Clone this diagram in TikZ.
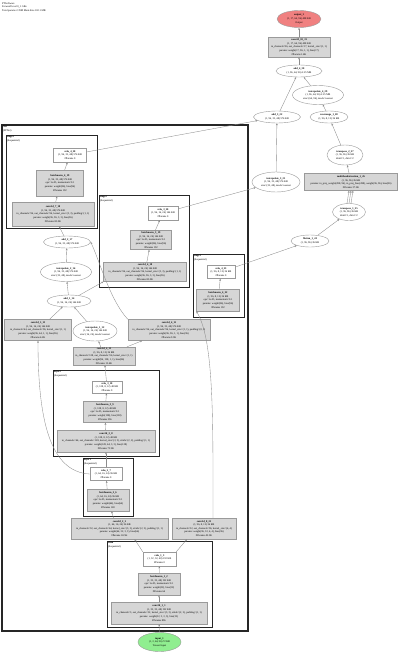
\documentclass[tikz,border=0pt]{standalone}
\usepackage{fontspec}
\setmainfont{Liberation Serif}
\usetikzlibrary{arrows.meta,shapes.geometric}
\definecolor{edgegray}{HTML}{8C8C8C}
\definecolor{linegray}{HTML}{9A9A9A}
\definecolor{boxgray}{HTML}{D6D6D6}
\definecolor{outred}{HTML}{F08080}
\definecolor{ingreen}{HTML}{90EE90}
\newcommand{\nfont}{\fontsize{2.6}{3.6}\selectfont}

\begin{document}
\begin{tikzpicture}[
    x=1pt, y=-1pt,
    every node/.style={font=\nfont, align=center, inner sep=0pt},
    op/.style={draw=linegray, fill=white, line width=0.4pt},
    pbox/.style={draw=linegray, fill=boxgray, line width=0.4pt},
    fn/.style={ellipse, draw=linegray, fill=white, line width=0.4pt},
    arr/.style={-{Stealth[length=2.2pt,width=1.8pt]}, edgegray, line width=0.35pt},
    clus/.style={draw=black!85, line width=0.9pt},
    clab/.style={anchor=north west, align=left, inner sep=0.8pt},
  ]
  \useasboundingbox (0,0) rectangle (400,653);

  \node[anchor=north west, align=left, inner sep=1pt] (head) at (1,1)
    {PTSoftware\\Forward level 0\_1 GBs\\Total params 2.39M Mem Size 102.1 MB};

  % clusters
  \draw[clus, line width=1.2pt] (2,125) rectangle (248,631);
  \node[clab] (netlab) at (2,125) {\textbf{Net}\\(FPNet)};
  \draw[clus] (6,135) rectangle (97,228);
  \node[clab] (s3lab) at (6,135) {\textbf{stage3}\\(Sequential)};
  \draw[clus] (99,195) rectangle (189,287);
  \node[clab] (s2lab) at (99,195) {\textbf{stage2}\\(Sequential)};
  \draw[clus] (193,254) rectangle (244,317);
  \node[clab] (s1lab) at (193,254) {\textbf{stage1}\\(Sequential)};
  \draw[clus] (53,370) rectangle (159,456);
  \node[clab] (l2lab) at (53,370) {\textbf{layer2}\\(Sequential)};
  \draw[clus] (83,458) rectangle (133,516);
  \node[clab] (l1lab) at (83,458) {\textbf{layer1}\\(Sequential)};
  \draw[clus] (107,541) rectangle (212,627);
  \node[clab] (stemlab) at (107,541) {\textbf{stem}\\(Sequential)};

  % head of the net
  \node[fn, fill=outred, minimum width=44, minimum height=17] (out) at (299,19)
    {\textbf{output\_1}\\(1, 17, 64, 96) 408 KB\\Output};
  \node[pbox, minimum width=62, minimum height=20] (convOut) at (299,47)
    {\textbf{conv2d\_18\_31}\\(1, 17, 64, 96) 408 KB\\in\_channels=96, out\_channels=17, kernel\_size=(1, 1)\\params: weight(17, 96, 1, 1), bias(17)\\\#Params 1.6K};
  \node[fn, minimum width=46, minimum height=12] (add4) at (299,71)
    {\textbf{add\_4\_30}\\(1, 96, 64, 96) 2.25 MB};
  \node[fn, minimum width=51, minimum height=19] (interp4) at (318,95)
    {\textbf{interpolate\_4\_29}\\(1, 96, 64, 96) 2.25 MB\\size=(64, 96), mode=nearest};
  \node[fn, minimum width=47, minimum height=12] (add3) at (277,117)
    {\textbf{add\_3\_22}\\(1, 96, 32, 48) 576 KB};
  \node[fn, minimum width=38, minimum height=12] (rearr) at (329,117)
    {\textbf{rearrange\_1\_28}\\(1, 96, 8, 12) 36 KB};
  \node[fn, minimum width=36, minimum height=20] (transp2) at (345,155)
    {\textbf{transpose\_2\_27}\\(1, 96, 96) 36 KB\\dim0=1, dim1=2};
  \node[fn, minimum width=48, minimum height=20] (interp2) at (276,182)
    {\textbf{interpolate\_3\_21}\\(1, 96, 32, 48) 576 KB\\size=(32, 48), mode=nearest};
  \node[pbox, minimum width=93, minimum height=17] (mha) at (351,182)
    {\textbf{multiheadattention\_1\_26}\\(1, 96, 96) 36 KB\\params: in\_proj\_weight(288, 96), in\_proj\_bias(288), weight(96, 96), bias(96)\\\#Params 37.2K};
  \node[fn, minimum width=33, minimum height=17] (transp1) at (349,212)
    {\textbf{transpose\_1\_25}\\(1, 96, 96) 36 KB\\dim0=1, dim1=2};
  \node[fn, minimum width=38, minimum height=12] (flat) at (310,241)
    {\textbf{flatten\_1\_24}\\(1, 96, 96) 36 KB};

  % stage3 and top-down adds
  \node[op, minimum width=33, minimum height=14] (relu3) at (70,155)
    {\textbf{relu\_4\_20}\\(1, 96, 32, 48) 576 KB\\\#Params 0};
  \node[pbox, minimum width=47, minimum height=26] (bn3) at (60,183)
    {\textbf{batchnorm\_4\_19}\\(1, 96, 32, 48) 576 KB\\eps=1e-05, momentum=0.1\\params: weight(96), bias(96)\\\#Params 192};
  \node[pbox, minimum width=82, minimum height=24] (conv3) at (53,214)
    {\textbf{conv2d\_7\_18}\\(1, 96, 32, 48) 576 KB\\in\_channels=96, out\_channels=96, kernel\_size=(3, 3), padding=(1, 1)\\params: weight(96, 96, 3, 3), bias(96)\\\#Params 83.0K};
  \node[fn, minimum width=47, minimum height=12] (add2) at (67,242)
    {\textbf{add\_2\_17}\\(1, 96, 32, 48) 576 KB};
  \node[fn, minimum width=51, minimum height=19] (interpB) at (66,272)
    {\textbf{interpolate\_2\_16}\\(1, 96, 32, 48) 576 KB\\size=(32, 48), mode=nearest};
  \node[fn, minimum width=44, minimum height=12] (add1) at (69,301)
    {\textbf{add\_1\_14}\\(1, 96, 16, 24) 144 KB};

  % stage2
  \node[op, minimum width=30, minimum height=14] (relu2) at (163,213)
    {\textbf{relu\_3\_20}\\(1, 96, 16, 24) 144 KB\\\#Params 0};
  \node[pbox, minimum width=41, minimum height=19] (bn2) at (151,240)
    {\textbf{batchnorm\_3\_19}\\(1, 96, 16, 24) 144 KB\\eps=1e-05, momentum=0.1\\params: weight(96), bias(96)\\\#Params 192};
  \node[pbox, minimum width=83, minimum height=19] (conv2) at (145,272)
    {\textbf{conv2d\_6\_18}\\(1, 96, 16, 24) 144 KB\\in\_channels=96, out\_channels=96, kernel\_size=(3, 3), padding=(1, 1)\\params: weight(96, 96, 3, 3), bias(96)\\\#Params 83.0K};

  % stage1
  \node[op, minimum width=28, minimum height=13] (relu1) at (221,272)
    {\textbf{relu\_4\_23}\\(1, 96, 8, 12) 36 KB\\\#Params 0};
  \node[pbox, minimum width=43, minimum height=22] (bn1) at (218,300)
    {\textbf{batchnorm\_4\_22}\\(1, 96, 8, 12) 36 KB\\eps=1e-05, momentum=0.1\\params: weight(96), bias(96)\\\#Params 192};

  % laterals
  \node[pbox, minimum width=67, minimum height=21] (convA) at (38,330)
    {\textbf{conv2d\_5\_13}\\(1, 96, 16, 24) 144 KB\\in\_channels=64, out\_channels=96, kernel\_size=(1, 1)\\params: weight(96, 64, 1, 1), bias(96)\\\#Params 6.2K};
  \node[fn, minimum width=44, minimum height=20] (interpA) at (95,331)
    {\textbf{interpolate\_1\_12}\\(1, 96, 16, 24) 144 KB\\size=(16, 24), mode=nearest};
  \node[pbox, minimum width=82, minimum height=21] (convB) at (169,330)
    {\textbf{conv2d\_6\_15}\\(1, 96, 32, 48) 576 KB\\in\_channels=96, out\_channels=96, kernel\_size=(1, 1), padding=(0, 0)\\params: weight(96, 96, 1, 1), bias(96)\\\#Params 9.3K};
  \node[pbox, minimum width=62, minimum height=18] (convC) at (104,356)
    {\textbf{conv2d\_4\_11}\\(1, 96, 8, 12) 36 KB\\in\_channels=128, out\_channels=96, kernel\_size=(1, 1)\\params: weight(96, 128, 1, 1), bias(96)\\\#Params 12.4K};

  % layer2
  \node[op, minimum width=30, minimum height=12] (relu4) at (107,387)
    {\textbf{relu\_3\_10}\\(1, 128, 8, 12) 48 KB\\\#Params 0};
  \node[pbox, minimum width=43, minimum height=21] (bn4) at (105,412)
    {\textbf{batchnorm\_3\_9}\\(1, 128, 8, 12) 48 KB\\eps=1e-05, momentum=0.1\\params: weight(128), bias(128)\\\#Params 256};
  \node[pbox, minimum width=98, minimum height=22] (conv4) at (106,441)
    {\textbf{conv2d\_3\_8}\\(1, 128, 8, 12) 48 KB\\in\_channels=64, out\_channels=128, kernel\_size=(3, 3), stride=(2, 2), padding=(1, 1)\\params: weight(128, 64, 3, 3), bias(128)\\\#Params 73.9K};

  % layer1
  \node[op, minimum width=32, minimum height=13] (reluS) at (106,474)
    {\textbf{relu\_2\_7}\\(1, 64, 16, 24) 96 KB\\\#Params 0};
  \node[pbox, minimum width=42, minimum height=22] (bnS) at (108,500)
    {\textbf{batchnorm\_2\_6}\\(1, 64, 16, 24) 96 KB\\eps=1e-05, momentum=0.1\\params: weight(64), bias(64)\\\#Params 128};
  \node[pbox, minimum width=97, minimum height=21] (convL) at (119.5,528.5)
    {\textbf{conv2d\_2\_5}\\(1, 64, 16, 24) 96 KB\\in\_channels=32, out\_channels=64, kernel\_size=(3, 3), stride=(2, 2), padding=(1, 1)\\params: weight(64, 32, 3, 3), bias(64)\\\#Params 18.5K};
  \node[pbox, minimum width=64, minimum height=21] (convR) at (204,528.5)
    {\textbf{conv2d\_8\_21}\\(1, 96, 8, 12) 36 KB\\in\_channels=32, out\_channels=96, kernel\_size=(4, 4)\\params: weight(96, 32, 4, 4), bias(96)\\\#Params 49.3K};

  % stem
  \node[op, minimum width=33, minimum height=14] (reluStem) at (159.5,559)
    {\textbf{relu\_1\_3}\\(1, 32, 32, 48) 192 KB\\\#Params 0};
  \node[pbox, minimum width=42, minimum height=22] (bnStem) at (159,584)
    {\textbf{batchnorm\_1\_2}\\(1, 32, 32, 48) 192 KB\\eps=1e-05, momentum=0.1\\params: weight(32), bias(32)\\\#Params 64};
  \node[pbox, minimum width=96, minimum height=22] (convStem) at (159,613)
    {\textbf{conv2d\_1\_1}\\(1, 32, 32, 48) 192 KB\\in\_channels=3, out\_channels=32, kernel\_size=(3, 3), stride=(2, 2), padding=(1, 1)\\params: weight(32, 3, 3, 3), bias(32)\\\#Params 896};
  \node[fn, fill=ingreen, minimum width=43, minimum height=19] (inp) at (159.5,642)
    {\textbf{input\_1}\\(1, 3, 64, 96) 72 KB\\Tensor Input};

  % connectors
  \draw[arr] (inp) -- (convStem);
  \draw[arr] (convStem) -- (bnStem);
  \draw[arr] (bnStem) -- (reluStem);
  \draw[arr] (reluStem.north west) -- ([xshift=15]convL.south);
  \draw[arr] (reluStem.north east) -- ([xshift=-17]convR.south);
  \draw[arr] ([xshift=-6]convL.north) -- (bnS);
  \draw[arr] (bnS) -- (reluS);
  \draw[arr] (reluS) -- (conv4);
  \draw[arr] (reluS.west) .. controls (50,472) and (38,420) .. (convA.south);
  \draw[arr] (conv4) -- (bn4);
  \draw[arr] (bn4) -- (relu4);
  \draw[arr] (relu4) -- (convC);
  \draw[arr] (convC) -- (interpA);
  \draw[arr] (convC) -- (convB);
  \draw[arr] (interpA) -- (add1);
  \draw[arr] (convA) -- (add1);
  \draw[arr] (add1) -- (interpB);
  \draw[arr] (interpB) -- (add2);
  \draw[arr] (add1) -- (conv2.south west);
  \draw[arr] (convB.north west) .. controls (110,300) and (100,262) .. (add2.east);
  \draw[arr] (add2) -- (conv3);
  \draw[arr] (conv3) -- (bn3);
  \draw[arr] (bn3) -- (relu3);
  \draw[arr] (conv2) -- (bn2);
  \draw[arr] (bn2) -- (relu2);
  \draw[arr] (relu2) -- (interp2);
  \draw[arr] (relu3) -- (add3);
  \draw[arr] (interp2) -- (add3);
  \draw[arr] ([xshift=9]convR.north) .. controls (213,420) and (214,340) .. (bn1.south west);
  \draw[arr] (bn1) -- (relu1);
  \draw[arr] (relu1) -- (flat);
  \draw[arr] (flat) -- (transp1);
  \foreach \dx in {-2,0,2}
    \draw[arr] ([xshift=\dx]transp1.north) -- ([xshift=\dx]mha.south);
  \draw[arr] (mha) -- (transp2);
  \draw[arr] (transp2) -- (rearr);
  \draw[arr] (rearr) -- (interp4);
  \draw[arr] (interp4) -- (add4);
  \draw[arr] (add3) -- (add4);
  \draw[arr] (add4) -- (convOut);
  \draw[arr] (convOut) -- (out);
\end{tikzpicture}
\end{document}
